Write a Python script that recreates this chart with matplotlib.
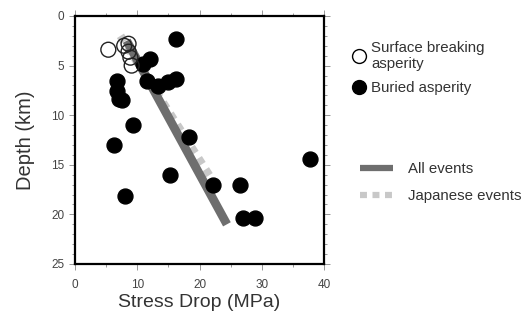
import matplotlib
matplotlib.use('Agg')
import matplotlib.pyplot as plt
from matplotlib.lines import Line2D
from matplotlib.ticker import MultipleLocator

plt.rcParams['font.family'] = ['Liberation Sans', 'DejaVu Sans']
plt.rcParams['lines.scale_dashes'] = False

# surface breaking asperities (open circles)
surf_stress = [5.35, 7.9, 8.6, 8.6, 8.9, 9.1]
surf_depth = [3.4, 3.0, 2.8, 3.6, 4.2, 5.0]

# buried asperities (filled circles)
bur_stress = [16.3, 10.9, 12.0, 11.5, 13.4, 15.0, 16.3, 6.8, 6.8, 7.0, 7.6,
              9.3, 6.3, 18.3, 15.3, 8.0, 22.1, 26.5, 27.0, 28.9, 37.8]
bur_depth = [2.35, 4.8, 4.3, 6.6, 7.1, 6.7, 6.4, 6.6, 7.6, 8.4, 8.5,
             11.0, 13.0, 12.2, 16.0, 18.1, 17.0, 17.0, 20.4, 20.4, 14.4]

# trend lines
all_stress = [8.3, 24.4]
all_depth = [2.5, 21.0]
jap_stress = [7.3, 21.9]
jap_depth = [2.0, 16.4]

fig = plt.figure(figsize=(5.25, 3.25), dpi=100)
ax = fig.add_axes([0.1429, 0.1877, 0.4743, 0.7631])

ax.plot(jap_stress, jap_depth, color='#c8c8c8', lw=6, dashes=(5, 4.5),
        dash_capstyle='butt', zorder=2)
ax.plot(all_stress, all_depth, color='#6e6e6e', lw=6.3,
        solid_capstyle='butt', zorder=3)
ax.scatter(bur_stress, bur_depth, s=115, c='black', edgecolors='black', zorder=4)
ax.scatter(surf_stress, surf_depth, s=115, facecolors='none',
           edgecolors='#222222', linewidths=1.0, zorder=5)

ax.set_xlim(0, 40)
ax.set_ylim(25, 0)
ax.xaxis.set_major_locator(MultipleLocator(10))
ax.xaxis.set_minor_locator(MultipleLocator(5))
ax.yaxis.set_major_locator(MultipleLocator(5))
ax.yaxis.set_minor_locator(MultipleLocator(1))
ax.tick_params(which='both', direction='out', top=True, right=True,
               color='#888888', width=0.6, labelsize=8.5, labelcolor='#444444')
ax.tick_params(which='major', length=4)
ax.tick_params(axis='x', which='major', pad=7)
ax.tick_params(which='minor', length=2.5)
for sp in ax.spines.values():
    sp.set_linewidth(1.6)

ax.set_xlabel('Stress Drop (MPa)', fontsize=14, color='#333333', labelpad=2)
ax.set_ylabel('Depth (km)', fontsize=14.5, color='#333333', labelpad=11.5)

h1 = [Line2D([], [], ls='none', marker='o', ms=10, mfc='white', mec='black', mew=1.0),
      Line2D([], [], ls='none', marker='o', ms=10, mfc='black', mec='black')]
leg1 = ax.legend(h1, ['Surface breaking\nasperity', 'Buried asperity'],
                 loc='upper left', bbox_to_anchor=(1.085, 0.925), frameon=False,
                 fontsize=10.8, handletextpad=0.35, labelspacing=0.7,
                 borderaxespad=0, handlelength=1.0, labelcolor='#333333')
ax.add_artist(leg1)

h2 = [Line2D([], [], color='#6e6e6e', lw=4.5, solid_capstyle='butt'),
      Line2D([], [], color='#c8c8c8', lw=4.5, dashes=(5, 4), dash_capstyle='butt')]
ax.legend(h2, ['All events', 'Japanese events'], loc='upper left',
          bbox_to_anchor=(1.122, 0.436), frameon=False, fontsize=10.8,
          handlelength=2.2, handletextpad=0.95, labelspacing=0.9,
          borderaxespad=0, labelcolor='#333333')

fig.savefig('out.png', dpi=100)
